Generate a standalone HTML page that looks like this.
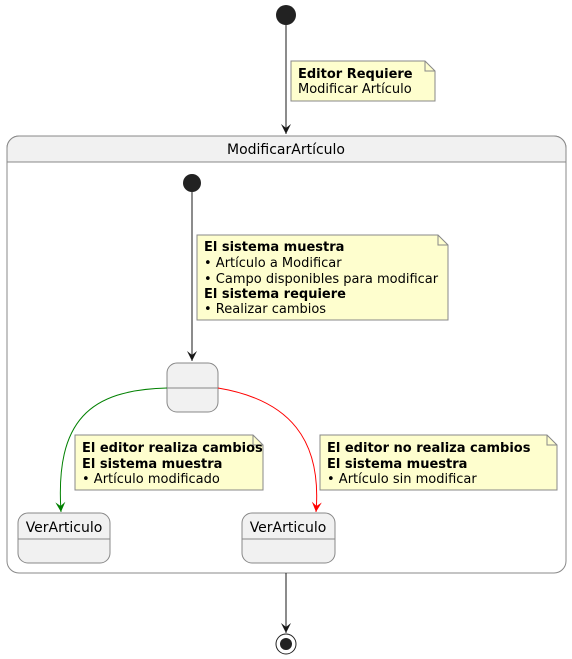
<!DOCTYPE html>
<html><head><meta charset="utf-8"><style>html,body{margin:0;padding:0;background:#fff}svg{display:block}text{font-family:"DejaVu Sans","Liberation Sans",sans-serif;font-size:13px;fill:#000}.b{font-weight:bold}</style></head><body>
<svg width="572" height="659" viewBox="0 0 572 659" xmlns="http://www.w3.org/2000/svg">
<defs>
<marker id="ak" markerWidth="12" markerHeight="12" refX="10" refY="6" orient="auto" markerUnits="userSpaceOnUse"><path d="M0,1 L10,6 L0,11 L4,6 Z" fill="#181818"/></marker>
<marker id="ag" markerWidth="12" markerHeight="12" refX="10" refY="6" orient="auto" markerUnits="userSpaceOnUse"><path d="M0,1 L10,6 L0,11 L4,6 Z" fill="#008000"/></marker>
<marker id="ar" markerWidth="12" markerHeight="12" refX="10" refY="6" orient="auto" markerUnits="userSpaceOnUse"><path d="M0,1 L10,6 L0,11 L4,6 Z" fill="#ff0000"/></marker>
</defs>
<circle cx="286" cy="15" r="10" fill="#222"/>
<line x1="286" y1="25" x2="286" y2="134" stroke="#181818" marker-end="url(#ak)"/>
<path d="M291,61 L425,61 L435,71 L435,101 L291,101 Z" fill="#fefece" stroke="#888"/>
<path d="M425,61 L425,71 L435,71" fill="none" stroke="#888"/>
<text x="298" y="78" class="b">Editor Requiere</text>
<text x="298" y="93">Modificar Artículo</text>

<rect x="7" y="136" width="559" height="437" rx="12" fill="#fff" stroke="#888"/>
<path d="M7,162 L7,148 A12,12 0 0 1 19,136 L554,136 A12,12 0 0 1 566,148 L566,162 Z" fill="#f1f1f1" stroke="#888"/>
<text x="286" y="154" text-anchor="middle" style="font-size:14px">ModificarArtículo</text>

<circle cx="192" cy="183" r="9" fill="#222"/>
<line x1="192" y1="192" x2="192" y2="361" stroke="#181818" marker-end="url(#ak)"/>
<path d="M197,235 L438,235 L448,245 L448,320 L197,320 Z" fill="#fefece" stroke="#888"/>
<path d="M438,235 L438,245 L448,245" fill="none" stroke="#888"/>
<text x="204" y="251" class="b">El sistema muestra</text>
<text x="204" y="267">• Artículo a Modificar</text>
<text x="204" y="283">• Campo disponibles para modificar</text>
<text x="204" y="298" class="b">El sistema requiere</text>
<text x="204" y="313">• Realizar cambios</text>

<rect x="167" y="363" width="51" height="49" rx="10" fill="#f1f1f1" stroke="#888"/>
<line x1="167" y1="388" x2="218" y2="388" stroke="#888"/>

<path d="M167,388 C90,390 55,420 61,512" fill="none" stroke="#008000" marker-end="url(#ag)"/>
<path d="M218,388 C290,400 322,440 316,512" fill="none" stroke="#ff0000" marker-end="url(#ar)"/>

<path d="M75,435 L253,435 L263,445 L263,490 L75,490 Z" fill="#fefece" stroke="#888"/>
<path d="M253,435 L253,445 L263,445" fill="none" stroke="#888"/>
<text x="82" y="452" class="b">El editor realiza cambios</text>
<text x="82" y="468" class="b">El sistema muestra</text>
<text x="82" y="483">• Artículo modificado</text>

<path d="M320,435 L547,435 L557,445 L557,490 L320,490 Z" fill="#fefece" stroke="#888"/>
<path d="M547,435 L547,445 L557,445" fill="none" stroke="#888"/>
<text x="327" y="452" class="b">El editor no realiza cambios</text>
<text x="327" y="468" class="b">El sistema muestra</text>
<text x="327" y="483">• Artículo sin modificar</text>

<rect x="18" y="513" width="92" height="50" rx="10" fill="#f1f1f1" stroke="#888"/>
<line x1="18" y1="539" x2="110" y2="539" stroke="#888"/>
<text x="64" y="532" text-anchor="middle" style="font-size:14px">VerArticulo</text>
<rect x="242" y="513" width="93" height="50" rx="10" fill="#f1f1f1" stroke="#888"/>
<line x1="242" y1="539" x2="335" y2="539" stroke="#888"/>
<text x="288" y="532" text-anchor="middle" style="font-size:14px">VerArticulo</text>

<line x1="286" y1="573" x2="286" y2="633" stroke="#181818" marker-end="url(#ak)"/>
<circle cx="286" cy="644" r="10" fill="#fff" stroke="#222" stroke-width="1"/>
<circle cx="286" cy="644" r="6" fill="#222"/>
</svg>
</body></html>
